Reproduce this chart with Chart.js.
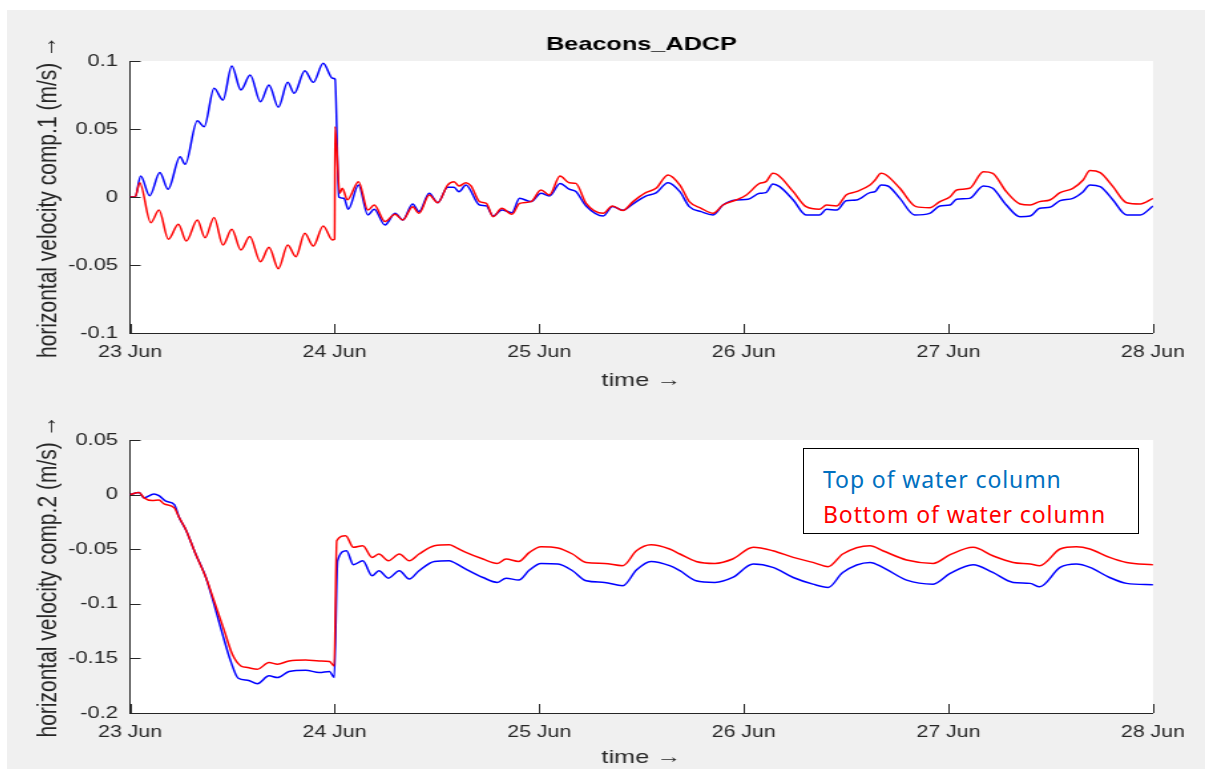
<!DOCTYPE html>
<html><head><meta charset="utf-8">
<script src="https://cdn.jsdelivr.net/npm/chart.js@4.4.1/dist/chart.umd.min.js"></script>
<style>
html,body{margin:0;padding:0;background:#fff;width:1205px;height:769px;overflow:hidden;}
#fig{position:absolute;left:7px;top:10px;width:1198px;height:759px;background:#f0f0f0;}
.wrap{position:absolute;left:7px;transform-origin:0 0;}
#legend{position:absolute;left:803px;top:448px;width:334px;height:84px;border:1px solid #000;background:#fff;font-family:'Noto Sans',sans-serif;font-size:23px;letter-spacing:0.9px;}
#legend div{position:absolute;left:19px;white-space:nowrap;line-height:28px;}
</style></head><body>
<div id="fig"></div>
<div class="wrap" id="w1" style="top:10px"><canvas id="c1" width="901" height="382"></canvas></div>
<div class="wrap" id="w2" style="top:390px"><canvas id="c2" width="901" height="379"></canvas></div>
<div id="legend"></div>
<script>
// ---------- DATA ----------
const chartTitle = 'Beacons_ADCP';
const xTickHours = [0, 24, 48, 72, 96, 120];
const xTickLabels = ['23 Jun', '24 Jun', '25 Jun', '26 Jun', '27 Jun', '28 Jun'];
const seriesNames = ['Top of water column', 'Bottom of water column'];
const lineColors = ['#0000ff', '#ff0000'];
const legendColors = ['#0070c0', '#ff0000'];

const comp1YTicks = [-0.1, -0.05, 0, 0.05, 0.1];
const comp1YLabels = ['-0.1', '-0.05', '0', '0.05', '0.1'];
const comp2YTicks = [-0.2, -0.15, -0.1, -0.05, 0, 0.05];
const comp2YLabels = ['-0.2', '-0.15', '-0.1', '-0.05', '0', '0.05'];

// comp.1, top of water column
const comp1TopHours = [0,0.6,1.25,2.3,3.5,4.46,5.87,6.46,7.9,8.7,9.86,10.9,11.94,13.0,14.1,15.3,16.3,17.4,18.5,19.26,20.5,21.5,22.66,23.75,24.05,24.5,25.1,25.6,26.8,27.9,28.65,29.9,31.1,32.0,33.15,33.9,35.1,36.1,37.25,38.0,38.6,39.4,41.0,41.8,42.6,43.6,44.8,45.7,47.05,48.2,49.2,50.45,51.5,52.3,53.5,55.5,56.6,57.8,59.0,60.5,61.7,63.1,64.5,65.6,67.0,68.4,69.55,71.1,72.5,73.85,74.6,75.4,76.2,77.8,79.3,80.9,81.7,82.9,84.0,85.2,86.8,87.4,88.1,88.9,90.3,92.05,93.8,95.0,96.2,96.95,98.5,100.1,101.2,102.8,104.4,105.6,106.7,107.9,109.1,110.6,111.8,112.6,113.8,115.3,116.9,118.5,120];
const comp1TopVel = [0,0,0.0154,0.001,0.018,0.0057,0.0296,0.024,0.056,0.0517,0.080,0.0713,0.0963,0.0787,0.0897,0.070,0.0824,0.066,0.0843,0.0762,0.0929,0.0843,0.0983,0.0873,0.0866,0.000,-0.001,-0.009,0.0088,-0.0132,-0.009,-0.0206,-0.012,-0.0169,-0.0051,-0.0107,0.0027,-0.0042,0.0071,0.0071,0.0039,0.0088,-0.0059,-0.0065,-0.014,-0.0095,-0.0115,-0.001,-0.0034,0.0027,0.0007,0.010,0.0057,0.004,-0.0066,-0.014,-0.007,-0.0098,-0.005,0.0007,0.003,0.0105,0.0039,-0.0071,-0.0108,-0.0132,-0.0059,-0.0022,-0.0017,0.0027,0.0032,0.0096,0.0076,-0.0022,-0.0132,-0.0132,-0.009,-0.0096,-0.0027,-0.0022,0.0032,0.0039,0.0088,0.0081,-0.001,-0.0132,-0.012,-0.0066,-0.0059,-0.0017,-0.001,0.0081,0.0064,-0.0059,-0.0145,-0.014,-0.0083,-0.0076,-0.0027,-0.001,0.0039,0.0088,0.0076,-0.0022,-0.0132,-0.0132,-0.0066];

// comp.1, bottom of water column
const comp1BotHours = [0,0.6,1.14,2.43,3.4,4.5,5.67,6.6,7.9,8.8,9.86,10.9,11.94,13.0,14.05,15.3,16.3,17.4,18.5,19.45,20.5,21.5,22.66,23.75,24.0,24.05,24.6,24.9,25.5,26.8,27.9,28.65,29.9,31.1,32.0,33.15,33.9,35.1,36.1,37.25,38.0,38.6,39.4,40.0,41.0,41.8,42.6,43.6,44.8,45.7,47.05,48.2,49.2,50.45,51.5,52.3,53.5,55.5,56.6,57.8,59.0,60.5,61.7,63.1,64.5,65.6,67.0,68.4,69.55,71.1,72.3,73.85,74.6,75.4,76.0,77.8,79.3,80.9,81.7,82.9,84.0,85.2,86.8,87.4,88.1,88.7,90.3,92.2,93.8,95.0,96.2,96.95,98.5,100.1,101.2,102.8,104.4,105.6,106.7,107.9,109.1,110.6,111.8,112.6,113.8,115.3,116.9,118.5,120];
const comp1BotVel = [0,0,0.0105,-0.0189,-0.0096,-0.031,-0.020,-0.0324,-0.017,-0.030,-0.015,-0.0353,-0.0238,-0.039,-0.029,-0.0476,-0.037,-0.0527,-0.0353,-0.0439,-0.0267,-0.036,-0.0213,-0.0316,-0.031,0.0517,0.0027,0.0064,-0.002,0.0113,-0.0096,-0.0059,-0.018,-0.0127,-0.0169,-0.0071,-0.012,0.0015,-0.0042,0.0088,0.0113,0.0081,0.0105,0.0081,-0.0034,-0.0047,-0.0145,-0.0083,-0.0127,-0.0047,-0.0034,0.0051,0.0015,0.0154,0.0105,0.010,-0.0047,-0.012,-0.0066,-0.010,-0.0034,0.0032,0.0064,0.0162,0.0088,-0.0034,-0.0083,-0.012,-0.0059,-0.0022,0.0015,0.010,0.0113,0.0174,0.0162,0.0039,-0.0071,-0.009,-0.0059,-0.0066,0.0015,0.0039,0.0088,0.0125,0.0174,0.0162,0.0064,-0.0071,-0.0079,-0.0034,0.0002,0.0051,0.0064,0.0186,0.0174,0.0039,-0.0051,-0.0059,-0.0034,-0.0022,0.0032,0.0064,0.0125,0.0194,0.0179,0.0076,-0.0042,-0.0051,-0.001];

// comp.2, top of water column
const comp2TopHours = [0,1.05,1.65,2.8,3.4,4.2,5.2,5.75,6.6,7.7,8.9,9.85,10.85,11.8,12.7,13.8,14.95,16.3,17.3,18.65,20.6,22.2,23.4,23.95,24.35,25.4,26.2,27.3,28.4,29.2,30.3,31.6,32.75,33.9,35.7,37.45,38.2,39.4,41.4,43.1,44.1,45.6,46.85,48.2,50.2,51.9,53.5,55.65,57.8,59.4,61.1,63.3,64.5,66.4,68.6,70.7,73.1,75.4,77.8,80.1,81.9,83.6,86.8,88.3,91.1,94.2,96.2,98.9,101.2,103.6,105.6,106.7,109.1,111.0,112.6,114.9,116.9,120];
const comp2TopVel = [0,0.002,-0.003,0.0006,-0.001,-0.006,-0.0092,-0.0208,-0.033,-0.0544,-0.0759,-0.1003,-0.1278,-0.1523,-0.1682,-0.170,-0.1731,-0.166,-0.1676,-0.162,-0.1608,-0.163,-0.162,-0.1676,-0.0606,-0.0514,-0.0642,-0.0606,-0.0743,-0.0697,-0.0765,-0.0697,-0.0774,-0.0697,-0.0612,-0.0606,-0.063,-0.0682,-0.0759,-0.0804,-0.0765,-0.0783,-0.0691,-0.063,-0.0636,-0.0697,-0.0789,-0.0804,-0.0835,-0.0691,-0.0612,-0.0651,-0.0697,-0.0789,-0.0804,-0.0759,-0.0636,-0.0667,-0.0759,-0.082,-0.085,-0.0713,-0.0621,-0.0667,-0.0783,-0.082,-0.0722,-0.0642,-0.0713,-0.0804,-0.0813,-0.0844,-0.0667,-0.0636,-0.0667,-0.0759,-0.0813,-0.0826];

// comp.2, bottom of water column
const comp2BotHours = [0,1.05,1.65,2.6,3.4,4.0,5.2,5.75,6.6,7.7,8.9,9.85,11.0,12.0,13.0,13.8,14.95,16.3,17.3,18.65,20.6,22.2,23.4,23.95,24.25,25.3,26.2,27.3,28.4,29.2,30.3,31.6,32.75,33.9,35.7,37.45,38.2,39.4,41.4,43.1,44.1,45.6,46.85,48.2,50.2,51.9,53.5,55.65,57.8,59.4,61.1,63.3,64.5,66.4,68.6,70.7,73.1,75.4,77.8,80.1,81.9,83.6,86.8,88.3,91.1,94.2,96.2,98.9,101.2,103.6,105.6,106.7,109.1,111.0,112.6,114.9,116.9,120];
const comp2BotVel = [0,0.002,-0.003,-0.0055,-0.0049,-0.0086,-0.0122,-0.0208,-0.033,-0.0544,-0.0759,-0.0972,-0.1232,-0.1462,-0.1569,-0.1584,-0.1599,-0.1538,-0.1553,-0.1523,-0.1514,-0.1523,-0.1529,-0.1569,-0.0422,-0.0376,-0.0483,-0.0468,-0.0575,-0.0544,-0.0606,-0.0544,-0.0606,-0.0544,-0.0468,-0.0459,-0.0483,-0.0529,-0.059,-0.063,-0.059,-0.0612,-0.0529,-0.0477,-0.0489,-0.0544,-0.0621,-0.063,-0.0651,-0.0514,-0.0459,-0.0498,-0.0544,-0.0612,-0.063,-0.059,-0.0483,-0.0514,-0.0575,-0.0621,-0.066,-0.0544,-0.0468,-0.0514,-0.0599,-0.063,-0.055,-0.0483,-0.056,-0.0621,-0.0636,-0.0651,-0.0498,-0.0477,-0.0498,-0.0575,-0.0621,-0.0642];

// ---------- RENDER ----------
const CW = 901;
const S = 1198 / CW;                 // horizontal stretch of the figure
document.getElementById('w1').style.transform = 'scaleX(' + S + ')';
document.getElementById('w2').style.transform = 'scaleX(' + S + ')';
const AX = '#262626';
const FONT = "'Liberation Sans', Arial, sans-serif";
const plotLeft = (130 - 7) / S, plotRight = (1153 - 7) / S;

const pts = (h, v) => h.map((x, i) => ({x: x, y: v[i]}));

const whiteArea = {
  id: 'whiteArea',
  beforeDraw(chart) {
    const a = chart.chartArea, ctx = chart.ctx;
    ctx.save(); ctx.fillStyle = '#ffffff';
    ctx.fillRect(a.left, a.top, a.right - a.left, a.bottom - a.top);
    ctx.restore();
  }
};
const inwardTicks = {
  id: 'inwardTicks',
  afterDraw(chart) {
    const {ctx, chartArea: a, scales: {x, y}} = chart;
    ctx.save(); ctx.strokeStyle = AX; ctx.lineWidth = 1; ctx.beginPath();
    x.ticks.forEach(t => { const px = Math.round(x.getPixelForValue(t.value)) + 0.5; ctx.moveTo(px, a.bottom); ctx.lineTo(px, a.bottom - 9); });
    y.ticks.forEach(t => { const py = Math.round(y.getPixelForValue(t.value)) + 0.5; ctx.moveTo(a.left, py); ctx.lineTo(a.left + 8, py); });
    ctx.stroke(); ctx.restore();
  }
};

function makeChart(id, topH, topV, botH, botV, yTicks, yLabels, yTitle, opts) {
  return new Chart(document.getElementById(id), {
    type: 'line',
    data: {
      datasets: [
        {label: seriesNames[0], data: pts(topH, topV), borderColor: lineColors[0], order: 1},
        {label: seriesNames[1], data: pts(botH, botV), borderColor: lineColors[1], order: 0}
      ]
    },
    options: {
      responsive: false, animation: false, devicePixelRatio: 1,
      elements: {
        line: {borderWidth: 1.5, cubicInterpolationMode: 'monotone', fill: false},
        point: {radius: 0, hoverRadius: 0}
      },
      layout: {padding: {left: 0, right: CW - plotRight, top: opts.padTop, bottom: 0}},
      plugins: {
        legend: {display: false}, tooltip: {enabled: false},
        title: opts.title ? {display: true, text: opts.title, fullSize: false, color: '#000',
          font: {family: FONT, size: 19, weight: 'bold', lineHeight: 1.2}, padding: {top: 23.6, bottom: 4.6}} : {display: false}
      },
      scales: {
        x: {
          type: 'linear', min: 0, max: 120,
          afterBuildTicks: s => { s.ticks = xTickHours.map(v => ({value: v})); },
          afterFit: s => { s.height = opts.xH; },
          grid: {display: false, drawTicks: false},
          border: {display: true, color: AX, width: 1},
          ticks: {color: AX, padding: 10, maxRotation: 0, autoSkip: false,
            font: {family: FONT, size: 16},
            callback: v => xTickLabels[xTickHours.indexOf(v)]},
          title: {display: true, text: 'time \u2192', color: AX, padding: {top: 0, bottom: 0},
            font: {family: FONT, size: 19, lineHeight: 1.2}}
        },
        y: {
          type: 'linear', min: yTicks[0], max: yTicks[yTicks.length - 1],
          afterBuildTicks: s => { s.ticks = yTicks.map(v => ({value: v})); },
          afterFit: s => { s.width = plotLeft; },
          grid: {display: false, drawTicks: false},
          border: {display: true, color: AX, width: 1},
          ticks: {color: AX, padding: 9, autoSkip: false,
            font: {family: FONT, size: 16.5},
            callback: v => yLabels[yTicks.findIndex(t => Math.abs(t - v) < 1e-9)]},
          title: {display: true, text: yTitle, color: AX, padding: {top: 19, bottom: 0},
            font: {family: FONT, size: 21, lineHeight: 1.2}}
        }
      }
    },
    plugins: [whiteArea, inwardTicks]
  });
}

makeChart('c1', comp1TopHours, comp1TopVel, comp1BotHours, comp1BotVel, comp1YTicks, comp1YLabels,
  'horizontal velocity comp.1 (m/s) \u2192', {title: chartTitle, padTop: 0, xH: 382 - 323});
makeChart('c2', comp2TopHours, comp2TopVel, comp2BotHours, comp2BotVel, comp2YTicks, comp2YLabels,
  'horizontal velocity comp.2 (m/s) \u2192', {title: null, padTop: 50, xH: 379 - 323});

// legend (text box drawn in the lower panel)
const lg = document.getElementById('legend');
seriesNames.forEach((n, i) => {
  const d = document.createElement('div');
  d.textContent = n; d.style.color = legendColors[i]; d.style.top = (16 + i * 35) + 'px';
  lg.appendChild(d);
});
</script>
</body></html>
